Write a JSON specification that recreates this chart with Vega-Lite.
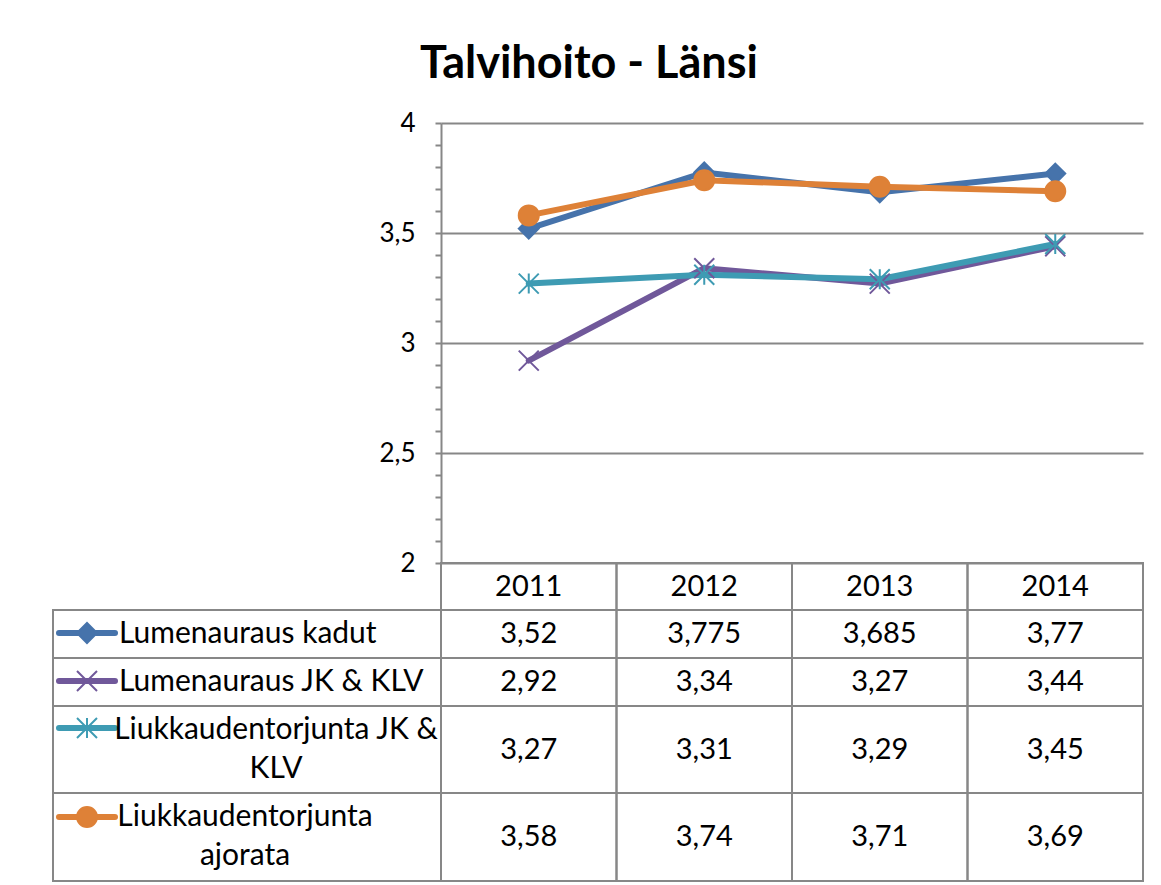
{
  "$schema": "https://vega.github.io/schema/vega-lite/v6.json",
  "padding": {"left": 52, "top": 42, "right": 5, "bottom": 3},
  "background": "white",
  "title": {"text": "Talvihoito - Länsi", "font": "Lato", "fontSize": 45, "fontWeight": "bold", "color": "black", "anchor": "middle", "dx": -9, "offset": 23},
  "config": {
    "view": {"stroke": null},
    "font": "Lato",
    "locale": {"number": {"decimal": ",", "thousands": "\u00a0", "grouping": [3], "currency": ["", "\u00a0€"]}},
    "text": {"font": "Lato", "color": "black"}
  },
  "datasets": {
    "values": [
      {"series": "Lumenauraus kadut", "year": 2011, "value": 3.52},
      {"series": "Lumenauraus kadut", "year": 2012, "value": 3.775},
      {"series": "Lumenauraus kadut", "year": 2013, "value": 3.685},
      {"series": "Lumenauraus kadut", "year": 2014, "value": 3.77},
      {"series": "Lumenauraus JK & KLV", "year": 2011, "value": 2.92},
      {"series": "Lumenauraus JK & KLV", "year": 2012, "value": 3.34},
      {"series": "Lumenauraus JK & KLV", "year": 2013, "value": 3.27},
      {"series": "Lumenauraus JK & KLV", "year": 2014, "value": 3.44},
      {"series": "Liukkaudentorjunta JK & KLV", "year": 2011, "value": 3.27},
      {"series": "Liukkaudentorjunta JK & KLV", "year": 2012, "value": 3.31},
      {"series": "Liukkaudentorjunta JK & KLV", "year": 2013, "value": 3.29},
      {"series": "Liukkaudentorjunta JK & KLV", "year": 2014, "value": 3.45},
      {"series": "Liukkaudentorjunta ajorata", "year": 2011, "value": 3.58},
      {"series": "Liukkaudentorjunta ajorata", "year": 2012, "value": 3.74},
      {"series": "Liukkaudentorjunta ajorata", "year": 2013, "value": 3.71},
      {"series": "Liukkaudentorjunta ajorata", "year": 2014, "value": 3.69}
    ],
    "rows": [
      {"series": "Lumenauraus kadut", "lines": ["Lumenauraus kadut"]},
      {"series": "Lumenauraus JK & KLV", "lines": ["Lumenauraus JK & KLV"]},
      {"series": "Liukkaudentorjunta JK & KLV", "lines": ["Liukkaudentorjunta JK &", "KLV"]},
      {"series": "Liukkaudentorjunta ajorata", "lines": ["Liukkaudentorjunta", "ajorata"]}
    ]
  },
  "columns": 2,
  "spacing": 0,
  "bounds": "flush",
  "concat": [
    {
      "width": 388, "height": 440,
      "data": {"values": [{}]},
      "mark": {"type": "text", "text": " "}
    },
    {
      "width": 702, "height": 440,
      "data": {"name": "values"},
      "encoding": {
        "x": {"field": "year", "type": "ordinal", "scale": {"type": "band", "paddingInner": 0, "paddingOuter": 0}, "axis": null},
        "y": {
          "field": "value", "type": "quantitative",
          "scale": {"domain": [2, 4], "nice": false, "zero": false},
          "axis": {
            "title": null,
            "values": [2, 2.1, 2.2, 2.3, 2.4, 2.5, 2.6, 2.7, 2.8, 2.9, 3, 3.1, 3.2, 3.3, 3.4, 3.5, 3.6, 3.7, 3.8, 3.9, 4],
            "format": "~g",
            "labelExpr": "abs(datum.value*2 - round(datum.value*2)) < 0.001 ? datum.label : ''",
            "labelFont": "Lato", "labelFontSize": 26, "labelColor": "black", "labelPadding": 20,
            "tickSize": 6, "tickColor": "#878787", "tickWidth": 2,
            "domainColor": "#878787", "domainWidth": 2,
            "grid": true, "gridColor": "#878787", "gridWidth": 2,
            "gridOpacity": {"condition": {"test": "abs(datum.value*2 - round(datum.value*2)) < 0.001", "value": 1}, "value": 0},
            "encode": {"ticks": {"update": {"x": {"value": 6}}}}
          }
        }
      },
      "layer": [
        {
          "mark": {"type": "line", "strokeWidth": 6, "strokeJoin": "round", "strokeCap": "round"},
          "encoding": {
            "color": {"field": "series", "type": "nominal", "legend": null,
              "scale": {"domain": ["Lumenauraus kadut", "Lumenauraus JK & KLV", "Liukkaudentorjunta JK & KLV", "Liukkaudentorjunta ajorata"], "range": ["#4673AB", "#70589A", "#3E9BB3", "#DE8137"]}}
          }
        },
        {
          "mark": {"type": "point", "size": 400, "strokeWidth": 2, "opacity": 1},
          "encoding": {
            "shape": {"field": "series", "type": "nominal", "legend": null,
              "scale": {"domain": ["Lumenauraus kadut", "Lumenauraus JK & KLV", "Liukkaudentorjunta JK & KLV", "Liukkaudentorjunta ajorata"], "range": ["diamond", "M-1,-1L1,1M-1,1L1,-1", "M-1,-1L1,1M-1,1L1,-1M0,-1L0,1", "circle"]}},
            "fill": {"field": "series", "type": "nominal", "legend": null,
              "scale": {"domain": ["Lumenauraus kadut", "Lumenauraus JK & KLV", "Liukkaudentorjunta JK & KLV", "Liukkaudentorjunta ajorata"], "range": ["#4673AB", "transparent", "transparent", "#DE8137"]}},
            "stroke": {"field": "series", "type": "nominal", "legend": null,
              "scale": {"domain": ["Lumenauraus kadut", "Lumenauraus JK & KLV", "Liukkaudentorjunta JK & KLV", "Liukkaudentorjunta ajorata"], "range": ["#4673AB", "#70589A", "#3E9BB3", "#DE8137"]}}
          }
        }
      ]
    },
    {
      "width": 388, "height": 47,
      "data": {"values": [{}]},
      "mark": {"type": "text", "text": " "}
    },
    {
      "width": 702, "height": 47,
      "data": {"name": "values"},
      "transform": [{"aggregate": [], "groupby": ["year"]}],
      "encoding": {"x": {"field": "year", "type": "ordinal", "scale": {"type": "band", "paddingInner": 0, "paddingOuter": 0}, "axis": null}},
      "layer": [
        {"mark": {"type": "rect", "fill": "transparent", "stroke": "#878787", "strokeWidth": 2}},
        {"mark": {"type": "text", "fontSize": 29, "baseline": "middle"}, "encoding": {"text": {"field": "year", "type": "ordinal"}}}
      ]
    },
    {
      "width": 388, "height": 48,
      "view": {"stroke": "#878787", "strokeWidth": 2},
      "data": {"name": "rows"},
      "transform": [{"filter": {"field": "series", "equal": "Lumenauraus kadut"}}],
      "layer": [
        {"mark": {"type": "rule", "strokeWidth": 6, "strokeCap": "round"},
         "encoding": {"x": {"value": 6}, "x2": {"value": 62}, "y": {"value": 23},
           "color": {"field": "series", "type": "nominal", "legend": null, "scale": {"domain": ["Lumenauraus kadut", "Lumenauraus JK & KLV", "Liukkaudentorjunta JK & KLV", "Liukkaudentorjunta ajorata"], "range": ["#4673AB", "#70589A", "#3E9BB3", "#DE8137"]}}}},
        {"mark": {"type": "point", "size": 400, "strokeWidth": 2, "opacity": 1},
         "encoding": {"x": {"value": 34}, "y": {"value": 23},
           "shape": {"field": "series", "type": "nominal", "legend": null, "scale": {"domain": ["Lumenauraus kadut", "Lumenauraus JK & KLV", "Liukkaudentorjunta JK & KLV", "Liukkaudentorjunta ajorata"], "range": ["diamond", "M-1,-1L1,1M-1,1L1,-1", "M-1,-1L1,1M-1,1L1,-1M0,-1L0,1", "circle"]}},
           "fill": {"field": "series", "type": "nominal", "legend": null, "scale": {"domain": ["Lumenauraus kadut", "Lumenauraus JK & KLV", "Liukkaudentorjunta JK & KLV", "Liukkaudentorjunta ajorata"], "range": ["#4673AB", "transparent", "transparent", "#DE8137"]}},
           "stroke": {"field": "series", "type": "nominal", "legend": null, "scale": {"domain": ["Lumenauraus kadut", "Lumenauraus JK & KLV", "Liukkaudentorjunta JK & KLV", "Liukkaudentorjunta ajorata"], "range": ["#4673AB", "#70589A", "#3E9BB3", "#DE8137"]}}}},
        {"mark": {"type": "text", "align": "left", "baseline": "alphabetic", "fontSize": 30, "lineHeight": 39},
         "encoding": {"x": {"value": 66}, "y": {"value": 33}, "text": {"field": "lines", "type": "nominal"}}}
      ]
    },
    {
      "width": 702, "height": 48,
      "data": {"name": "values"},
      "transform": [{"filter": {"field": "series", "equal": "Lumenauraus kadut"}}],
      "encoding": {"x": {"field": "year", "type": "ordinal", "scale": {"type": "band", "paddingInner": 0, "paddingOuter": 0}, "axis": null}},
      "layer": [
        {"mark": {"type": "rect", "fill": "transparent", "stroke": "#878787", "strokeWidth": 2}},
        {"mark": {"type": "text", "fontSize": 29, "baseline": "middle"}, "encoding": {"text": {"field": "value", "type": "quantitative", "format": "~g"}}}
      ]
    },
    {
      "width": 388, "height": 48,
      "view": {"stroke": "#878787", "strokeWidth": 2},
      "data": {"name": "rows"},
      "transform": [{"filter": {"field": "series", "equal": "Lumenauraus JK & KLV"}}],
      "layer": [
        {"mark": {"type": "rule", "strokeWidth": 6, "strokeCap": "round"},
         "encoding": {"x": {"value": 6}, "x2": {"value": 62}, "y": {"value": 23},
           "color": {"field": "series", "type": "nominal", "legend": null, "scale": {"domain": ["Lumenauraus kadut", "Lumenauraus JK & KLV", "Liukkaudentorjunta JK & KLV", "Liukkaudentorjunta ajorata"], "range": ["#4673AB", "#70589A", "#3E9BB3", "#DE8137"]}}}},
        {"mark": {"type": "point", "size": 400, "strokeWidth": 2, "opacity": 1},
         "encoding": {"x": {"value": 34}, "y": {"value": 23},
           "shape": {"field": "series", "type": "nominal", "legend": null, "scale": {"domain": ["Lumenauraus kadut", "Lumenauraus JK & KLV", "Liukkaudentorjunta JK & KLV", "Liukkaudentorjunta ajorata"], "range": ["diamond", "M-1,-1L1,1M-1,1L1,-1", "M-1,-1L1,1M-1,1L1,-1M0,-1L0,1", "circle"]}},
           "fill": {"field": "series", "type": "nominal", "legend": null, "scale": {"domain": ["Lumenauraus kadut", "Lumenauraus JK & KLV", "Liukkaudentorjunta JK & KLV", "Liukkaudentorjunta ajorata"], "range": ["#4673AB", "transparent", "transparent", "#DE8137"]}},
           "stroke": {"field": "series", "type": "nominal", "legend": null, "scale": {"domain": ["Lumenauraus kadut", "Lumenauraus JK & KLV", "Liukkaudentorjunta JK & KLV", "Liukkaudentorjunta ajorata"], "range": ["#4673AB", "#70589A", "#3E9BB3", "#DE8137"]}}}},
        {"mark": {"type": "text", "align": "left", "baseline": "alphabetic", "fontSize": 30, "lineHeight": 39},
         "encoding": {"x": {"value": 66}, "y": {"value": 33}, "text": {"field": "lines", "type": "nominal"}}}
      ]
    },
    {
      "width": 702, "height": 48,
      "data": {"name": "values"},
      "transform": [{"filter": {"field": "series", "equal": "Lumenauraus JK & KLV"}}],
      "encoding": {"x": {"field": "year", "type": "ordinal", "scale": {"type": "band", "paddingInner": 0, "paddingOuter": 0}, "axis": null}},
      "layer": [
        {"mark": {"type": "rect", "fill": "transparent", "stroke": "#878787", "strokeWidth": 2}},
        {"mark": {"type": "text", "fontSize": 29, "baseline": "middle"}, "encoding": {"text": {"field": "value", "type": "quantitative", "format": "~g"}}}
      ]
    },
    {
      "width": 388, "height": 87,
      "view": {"stroke": "#878787", "strokeWidth": 2},
      "data": {"name": "rows"},
      "transform": [{"filter": {"field": "series", "equal": "Liukkaudentorjunta JK & KLV"}}],
      "layer": [
        {"mark": {"type": "rule", "strokeWidth": 6, "strokeCap": "round"},
         "encoding": {"x": {"value": 6}, "x2": {"value": 62}, "y": {"value": 22},
           "color": {"field": "series", "type": "nominal", "legend": null, "scale": {"domain": ["Lumenauraus kadut", "Lumenauraus JK & KLV", "Liukkaudentorjunta JK & KLV", "Liukkaudentorjunta ajorata"], "range": ["#4673AB", "#70589A", "#3E9BB3", "#DE8137"]}}}},
        {"mark": {"type": "point", "size": 400, "strokeWidth": 2, "opacity": 1},
         "encoding": {"x": {"value": 34}, "y": {"value": 22},
           "shape": {"field": "series", "type": "nominal", "legend": null, "scale": {"domain": ["Lumenauraus kadut", "Lumenauraus JK & KLV", "Liukkaudentorjunta JK & KLV", "Liukkaudentorjunta ajorata"], "range": ["diamond", "M-1,-1L1,1M-1,1L1,-1", "M-1,-1L1,1M-1,1L1,-1M0,-1L0,1", "circle"]}},
           "fill": {"field": "series", "type": "nominal", "legend": null, "scale": {"domain": ["Lumenauraus kadut", "Lumenauraus JK & KLV", "Liukkaudentorjunta JK & KLV", "Liukkaudentorjunta ajorata"], "range": ["#4673AB", "transparent", "transparent", "#DE8137"]}},
           "stroke": {"field": "series", "type": "nominal", "legend": null, "scale": {"domain": ["Lumenauraus kadut", "Lumenauraus JK & KLV", "Liukkaudentorjunta JK & KLV", "Liukkaudentorjunta ajorata"], "range": ["#4673AB", "#70589A", "#3E9BB3", "#DE8137"]}}}},
        {"mark": {"type": "text", "align": "center", "baseline": "alphabetic", "fontSize": 30, "lineHeight": 39},
         "encoding": {"x": {"value": 223}, "y": {"value": 33}, "text": {"field": "lines", "type": "nominal"}}}
      ]
    },
    {
      "width": 702, "height": 87,
      "data": {"name": "values"},
      "transform": [{"filter": {"field": "series", "equal": "Liukkaudentorjunta JK & KLV"}}],
      "encoding": {"x": {"field": "year", "type": "ordinal", "scale": {"type": "band", "paddingInner": 0, "paddingOuter": 0}, "axis": null}},
      "layer": [
        {"mark": {"type": "rect", "fill": "transparent", "stroke": "#878787", "strokeWidth": 2}},
        {"mark": {"type": "text", "fontSize": 29, "baseline": "middle"}, "encoding": {"text": {"field": "value", "type": "quantitative", "format": "~g"}}}
      ]
    },
    {
      "width": 388, "height": 88,
      "view": {"stroke": "#878787", "strokeWidth": 2},
      "data": {"name": "rows"},
      "transform": [{"filter": {"field": "series", "equal": "Liukkaudentorjunta ajorata"}}],
      "layer": [
        {"mark": {"type": "rule", "strokeWidth": 6, "strokeCap": "round"},
         "encoding": {"x": {"value": 6}, "x2": {"value": 62}, "y": {"value": 24},
           "color": {"field": "series", "type": "nominal", "legend": null, "scale": {"domain": ["Lumenauraus kadut", "Lumenauraus JK & KLV", "Liukkaudentorjunta JK & KLV", "Liukkaudentorjunta ajorata"], "range": ["#4673AB", "#70589A", "#3E9BB3", "#DE8137"]}}}},
        {"mark": {"type": "point", "size": 400, "strokeWidth": 2, "opacity": 1},
         "encoding": {"x": {"value": 34}, "y": {"value": 24},
           "shape": {"field": "series", "type": "nominal", "legend": null, "scale": {"domain": ["Lumenauraus kadut", "Lumenauraus JK & KLV", "Liukkaudentorjunta JK & KLV", "Liukkaudentorjunta ajorata"], "range": ["diamond", "M-1,-1L1,1M-1,1L1,-1", "M-1,-1L1,1M-1,1L1,-1M0,-1L0,1", "circle"]}},
           "fill": {"field": "series", "type": "nominal", "legend": null, "scale": {"domain": ["Lumenauraus kadut", "Lumenauraus JK & KLV", "Liukkaudentorjunta JK & KLV", "Liukkaudentorjunta ajorata"], "range": ["#4673AB", "transparent", "transparent", "#DE8137"]}},
           "stroke": {"field": "series", "type": "nominal", "legend": null, "scale": {"domain": ["Lumenauraus kadut", "Lumenauraus JK & KLV", "Liukkaudentorjunta JK & KLV", "Liukkaudentorjunta ajorata"], "range": ["#4673AB", "#70589A", "#3E9BB3", "#DE8137"]}}}},
        {"mark": {"type": "text", "align": "center", "baseline": "alphabetic", "fontSize": 30, "lineHeight": 39},
         "encoding": {"x": {"value": 192}, "y": {"value": 33}, "text": {"field": "lines", "type": "nominal"}}}
      ]
    },
    {
      "width": 702, "height": 88,
      "data": {"name": "values"},
      "transform": [{"filter": {"field": "series", "equal": "Liukkaudentorjunta ajorata"}}],
      "encoding": {"x": {"field": "year", "type": "ordinal", "scale": {"type": "band", "paddingInner": 0, "paddingOuter": 0}, "axis": null}},
      "layer": [
        {"mark": {"type": "rect", "fill": "transparent", "stroke": "#878787", "strokeWidth": 2}},
        {"mark": {"type": "text", "fontSize": 29, "baseline": "middle"}, "encoding": {"text": {"field": "value", "type": "quantitative", "format": "~g"}}}
      ]
    }
  ]
}
